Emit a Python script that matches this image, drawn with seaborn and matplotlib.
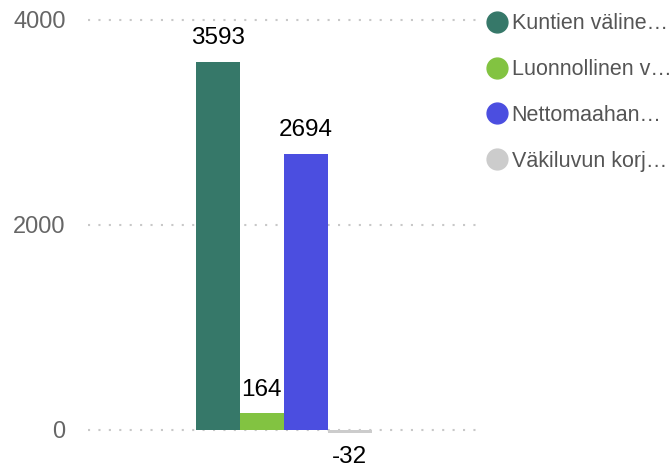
import pandas as pd
import matplotlib
matplotlib.use("Agg")
import matplotlib.pyplot as plt
import seaborn as sns
from matplotlib.lines import Line2D

# chart data
series = ["Kuntien väline…", "Luonnollinen v…", "Nettomaahan…", "Väkiluvun korj…"]
values = [3593, 164, 2694, -32]
colors = ["#367869", "#82C341", "#4B4EE0", "#CCCCCC"]
yticks = [0, 2000, 4000]

df = pd.DataFrame({"group": ["a"] * len(series), "series": series, "value": values})

sns.set_style("white")
plt.rcParams["font.family"] = ["Liberation Sans", "DejaVu Sans"]

fig = plt.figure(figsize=(6.7, 4.67), dpi=100)
ax = fig.add_axes([0.131, 0.015, 0.585, 0.953])

sns.barplot(data=df, x="group", y="value", hue="series", hue_order=series,
            palette=colors, width=0.45, saturation=1, legend=False,
            linewidth=0, ax=ax)

for cont in ax.containers:
    ax.bar_label(cont, fmt="%d", padding=9, fontsize=17.5, color="black")

ax.set_ylim(-293, 4049)
ax.set_xlim(-0.5, 0.5)
ax.set_yticks(yticks)
ax.set_yticklabels([str(t) for t in yticks], fontsize=17, color="#666666")
ax.tick_params(axis="y", length=0, pad=16)
ax.set_xticks([])
ax.set_xlabel("")
ax.set_ylabel("")
for s in ax.spines.values():
    s.set_visible(False)
for t in yticks:
    ax.axhline(t, color="#c8c8c8", linestyle=(0, (1, 4)), linewidth=1.5, zorder=0)

handles = [Line2D([], [], marker="o", linestyle="", markersize=15,
                  markerfacecolor=c, markeredgecolor=c) for c in colors]
fig.legend(handles, series, loc="upper left", bbox_to_anchor=(0.725, 0.972),
           frameon=False, fontsize=15.5, labelcolor="#555555", handletextpad=0.2,
           labelspacing=1.16, handlelength=1.0, borderpad=0, borderaxespad=0)

fig.savefig("out.png", dpi=100)
